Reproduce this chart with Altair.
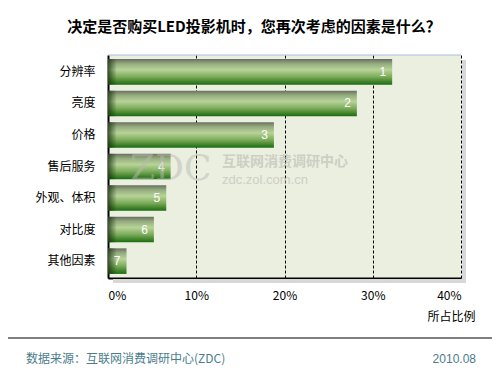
import altair as alt
import pandas as pd

FONT = "Noto Sans CJK SC"

categories = ["分辨率", "亮度", "价格", "售后服务", "外观、体积", "对比度", "其他因素"]
values = [32.2, 28.2, 18.8, 7.1, 6.6, 5.2, 2.1]
ranks = ["1", "2", "3", "4", "5", "6", "7"]
x_ticks = [0, 10, 20, 30, 40]

title_text = "决定是否购买LED投影机时，您再次考虑的因素是什么？"
x_title = "所占比例"
source_text = "数据来源：互联网消费调研中心(ZDC)"
date_text = "2010.08"

W, H = 353, 223

df = pd.DataFrame({"cat": categories, "val": values, "rank": ranks})
one = pd.DataFrame({"a": [0]})

y_enc = alt.Y(
    "cat:N",
    sort=categories,
    scale=alt.Scale(paddingInner=0.19, paddingOuter=0.13),
    axis=alt.Axis(
        title=None, labelFontSize=12, labelColor="#000", labelFont=FONT,
        labelPadding=13, ticks=False, domainColor="#000", domainWidth=2,
    ),
)
x_enc = alt.X(
    "val:Q",
    scale=alt.Scale(domain=[0, 40], nice=False),
    axis=alt.Axis(
        values=x_ticks, labelExpr="datum.value + '%'", grid=True,
        gridDash=[3, 2], gridColor="#000", gridWidth=1, gridOpacity=1,
        ticks=False, domainColor="#000", domainWidth=2, labelPadding=12,
        labelFontSize=12, labelColor="#000", labelFont=FONT,
        title=x_title, titleAnchor="end", titleAlign="right",
        titleX=367, titleY=42, titleFontSize=12, titleFontWeight="normal",
        titleFont=FONT, titleColor="#000", titleBaseline="alphabetic",
    ),
)

bar_grad = alt.Gradient(
    gradient="linear",
    stops=[
        alt.GradientStop(color="#6a6e62", offset=0),
        alt.GradientStop(color="#94ac7e", offset=0.18),
        alt.GradientStop(color="#b8d398", offset=0.42),
        alt.GradientStop(color="#7aaa58", offset=0.7),
        alt.GradientStop(color="#1b6b10", offset=1),
    ],
    x1=0, x2=0, y1=0, y2=1,
)
edge_grad = alt.Gradient(
    gradient="linear",
    stops=[
        alt.GradientStop(color="rgba(20,45,10,0.75)", offset=0),
        alt.GradientStop(color="rgba(20,45,10,0)", offset=1),
    ],
    x1=0, x2=1, y1=0, y2=0,
)

base = alt.Chart(df)

bars = base.mark_bar(color=bar_grad).encode(x=x_enc, y=y_enc)
edges = base.transform_calculate(edge="min(datum.val, 1.0)").mark_bar(color=edge_grad).encode(
    x=alt.X("edge:Q"), y=alt.Y("cat:N", sort=categories)
)
labels = base.mark_text(align="right", dx=-6, color="white", fontSize=12, font="Liberation Sans").encode(
    x="val:Q", y=alt.Y("cat:N", sort=categories), text="rank:N"
)

oc = alt.Chart(one)
shadow_r = oc.mark_rect(color="#d8d8d8").encode(
    x=alt.value(W + 1), x2=alt.value(W + 5), y=alt.value(5), y2=alt.value(H + 5))
shadow_b = oc.mark_rect(color="#d8d8d8").encode(
    x=alt.value(5), x2=alt.value(W + 5), y=alt.value(H + 1), y2=alt.value(H + 5))
top_line = oc.mark_rule(color="#a9bde0", strokeWidth=1).encode(
    x=alt.value(0), x2=alt.value(W), y=alt.value(0))

wm_color = "#b8bab0"
wm1 = oc.mark_text(text="ZDC", fontSize=36, font="DejaVu Serif", color=wm_color, opacity=0.5,
                   align="left", baseline="middle").encode(x=alt.value(22), y=alt.value(114))
wm2 = oc.mark_text(text="互联网消费调研中心", fontSize=14, font=FONT, fontWeight="bold", color=wm_color,
                   opacity=0.6, align="left", baseline="middle").encode(x=alt.value(114), y=alt.value(107))
wm3 = oc.mark_text(text="zdc.zol.com.cn", fontSize=13, font="Liberation Sans", color=wm_color,
                   opacity=0.6, align="left", baseline="middle").encode(x=alt.value(114), y=alt.value(125))

title = oc.mark_text(text=title_text, fontSize=15, font=FONT, fontWeight="bold", color="#000",
                     align="center", baseline="middle").encode(x=alt.value(146), y=alt.value(-28))
foot_line = oc.mark_rule(color="#000", strokeWidth=1).encode(
    x=alt.value(-100), x2=alt.value(388), y=alt.value(283))
foot_l = oc.mark_text(text=source_text, fontSize=12, font=FONT, color="#4b7d8c",
                      align="left", baseline="middle").encode(x=alt.value(-82), y=alt.value(304))
foot_r = oc.mark_text(text=date_text, fontSize=12, font="Liberation Sans", color="#4b7d8c",
                      align="right", baseline="middle").encode(x=alt.value(368), y=alt.value(304))

chart = alt.layer(
    shadow_r, shadow_b, bars, edges, labels, top_line, wm1, wm2, wm3,
    title, foot_line, foot_l, foot_r,
).properties(
    width=W, height=H,
    autosize=alt.AutoSizeParams(type="none"),
    padding={"left": 100, "top": 47, "right": 31, "bottom": 88},
    background="white",
).configure_view(fill="#ebefe0", stroke=None)

chart.save("out.html", embed_options={"renderer": "svg", "actions": False})
